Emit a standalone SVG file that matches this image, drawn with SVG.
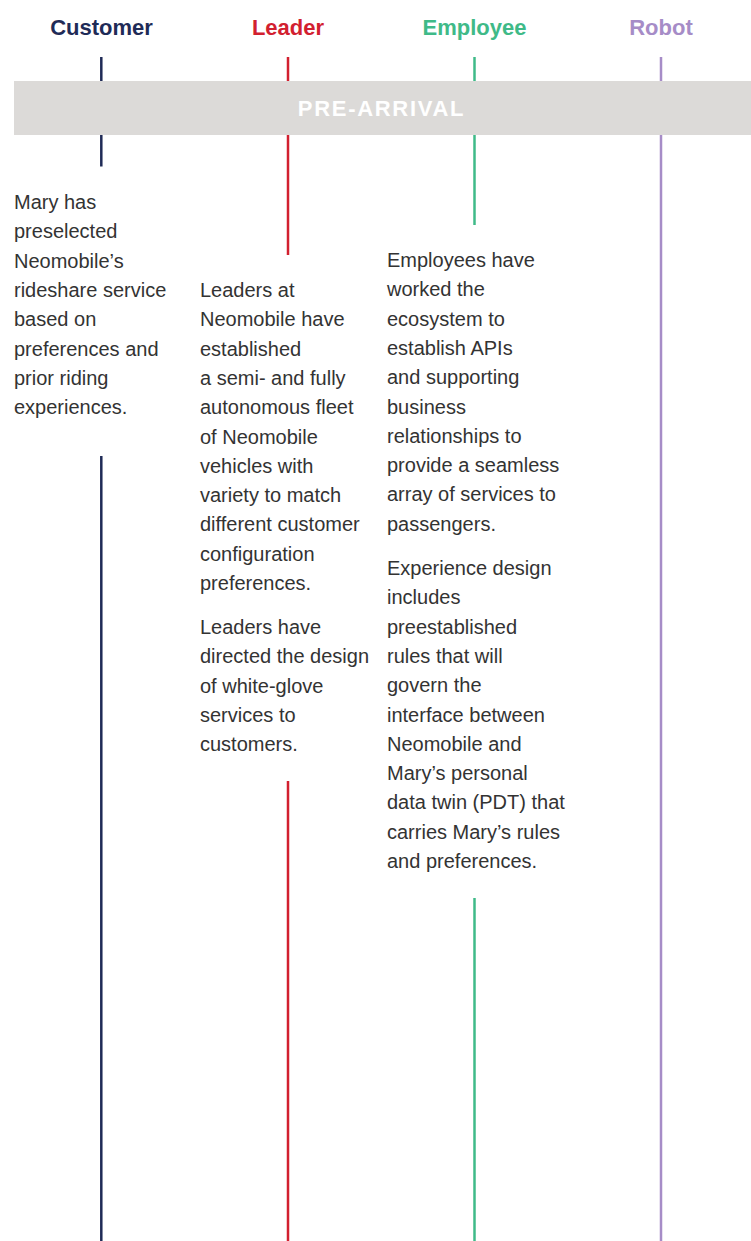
<svg xmlns="http://www.w3.org/2000/svg" width="751" height="1241" viewBox="0 0 751 1241">
<style>
.hdr{font-family:"Liberation Sans",Arial,sans-serif;font-weight:bold;font-size:22px;text-anchor:middle}
.body{font-family:"Liberation Sans",Arial,sans-serif;font-size:20px;fill:#333333}
.band{font-family:"Liberation Sans",Arial,sans-serif;font-weight:bold;font-size:22px;fill:#ffffff;letter-spacing:1.7px;text-anchor:middle}
.cu{stroke:#1f2b57}
.le{stroke:#d2202f}
.em{stroke:#3fba88}
.ro{stroke:#a68cc7}
line{stroke-width:2.5}
</style>
<rect width="751" height="1241" fill="#ffffff"/>
<g id="lanes">
<line class="cu" x1="101.3" y1="57" x2="101.3" y2="166.5"/>
<line class="cu" x1="101.3" y1="456" x2="101.3" y2="1241"/>
<line class="le" x1="288" y1="57" x2="288" y2="255"/>
<line class="le" x1="288" y1="781" x2="288" y2="1241"/>
<line class="em" x1="474.5" y1="57" x2="474.5" y2="225"/>
<line class="em" x1="474.5" y1="898" x2="474.5" y2="1241"/>
<line class="ro" x1="661" y1="57" x2="661" y2="1241"/>
</g>
<g id="band">
<rect x="14" y="81" width="737" height="54" fill="#dcdad8"/>
<text class="band" x="381.5" y="116">PRE-ARRIVAL</text>
</g>
<g id="headers">
<text class="hdr" x="101.5" y="35" fill="#1f2b57">Customer</text>
<text class="hdr" x="288" y="35" fill="#d2202f">Leader</text>
<text class="hdr" x="474.5" y="35" fill="#3fba88">Employee</text>
<text class="hdr" x="661" y="35" fill="#a68cc7">Robot</text>
</g>
<g id="customer-text">
<text class="body" x="14" y="209">
<tspan x="14" y="209">Mary has</tspan>
<tspan x="14" y="238.3">preselected</tspan>
<tspan x="14" y="267.6">Neomobile’s</tspan>
<tspan x="14" y="296.9">rideshare service</tspan>
<tspan x="14" y="326.2">based on</tspan>
<tspan x="14" y="355.5">preferences and</tspan>
<tspan x="14" y="384.8">prior riding</tspan>
<tspan x="14" y="414.1">experiences.</tspan>
</text>
</g>
<g id="leader-text-1">
<text class="body" x="200" y="297">
<tspan x="200" y="297">Leaders at</tspan>
<tspan x="200" y="326.3">Neomobile have</tspan>
<tspan x="200" y="355.6">established</tspan>
<tspan x="200" y="384.9">a semi- and fully</tspan>
<tspan x="200" y="414.2">autonomous fleet</tspan>
<tspan x="200" y="443.5">of Neomobile</tspan>
<tspan x="200" y="472.8">vehicles with</tspan>
<tspan x="200" y="502.1">variety to match</tspan>
<tspan x="200" y="531.4">different customer</tspan>
<tspan x="200" y="560.7">configuration</tspan>
<tspan x="200" y="590">preferences.</tspan>
</text>
</g>
<g id="leader-text-2">
<text class="body" x="200" y="634">
<tspan x="200" y="634">Leaders have</tspan>
<tspan x="200" y="663.3">directed the design</tspan>
<tspan x="200" y="692.6">of white-glove</tspan>
<tspan x="200" y="721.9">services to</tspan>
<tspan x="200" y="751.2">customers.</tspan>
</text>
</g>
<g id="employee-text-1">
<text class="body" x="387" y="267">
<tspan x="387" y="267">Employees have</tspan>
<tspan x="387" y="296.3">worked the</tspan>
<tspan x="387" y="325.6">ecosystem to</tspan>
<tspan x="387" y="354.9">establish APIs</tspan>
<tspan x="387" y="384.2">and supporting</tspan>
<tspan x="387" y="413.5">business</tspan>
<tspan x="387" y="442.8">relationships to</tspan>
<tspan x="387" y="472.1">provide a seamless</tspan>
<tspan x="387" y="501.4">array of services to</tspan>
<tspan x="387" y="530.7">passengers.</tspan>
</text>
</g>
<g id="employee-text-2">
<text class="body" x="387" y="575">
<tspan x="387" y="575">Experience design</tspan>
<tspan x="387" y="604.3">includes</tspan>
<tspan x="387" y="633.6">preestablished</tspan>
<tspan x="387" y="662.9">rules that will</tspan>
<tspan x="387" y="692.2">govern the</tspan>
<tspan x="387" y="721.5">interface between</tspan>
<tspan x="387" y="750.8">Neomobile and</tspan>
<tspan x="387" y="780.1">Mary’s personal</tspan>
<tspan x="387" y="809.4">data twin (PDT) that</tspan>
<tspan x="387" y="838.7">carries Mary’s rules</tspan>
<tspan x="387" y="868">and preferences.</tspan>
</text>
</g>
</svg>
